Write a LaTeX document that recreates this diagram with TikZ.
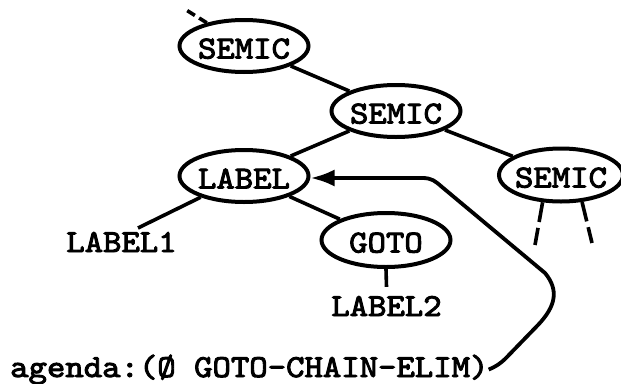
\documentclass[tikz,border=0pt]{standalone}
\usepackage{fontspec}
\newfontfamily\tw{lmmono10-regular.otf}[FakeStretch=1.095,FakeBold=3]
\usetikzlibrary{shapes.geometric,arrows.meta}
\begin{document}
\begin{tikzpicture}[x=1pt,y=-1pt,
  every node/.style={font={\tw\fontsize{32}{38}\selectfont}},
  nd/.style={ellipse, draw, line width=4pt, inner xsep=-4pt, inner ysep=0pt,
    minimum width=129pt, minimum height=52pt, text height=25pt, text depth=0pt},
  conn/.style={line width=3.6pt},
  txt/.style={anchor=base, inner sep=0pt},
]
\useasboundingbox (0,0) rectangle (621,383);
\node[nd] (s1) at (244,46) {SEMIC};
\node[nd] (s2) at (396,111) {SEMIC};
\node[nd] (lab) at (244,176) {LABEL};
\node[nd, minimum width=124pt, minimum height=53pt] (s3) at (561,175) {SEMIC};
\node[nd, minimum height=54pt] (goto) at (386,240) {GOTO};
\node[txt] (l1) at (121.5,252) {LABEL1};
\node[txt] (l2) at (386.5,316) {LABEL2};
\node[txt, anchor=base west] (ag) at (10,377) {agenda:(Ø GOTO-CHAIN-ELIM)};
\coordinate (up) at (183,8);
\coordinate (l1c) at (138,228);
\coordinate (d1) at (535,245);
\coordinate (d2) at (592,243);
\coordinate (a4) at (422,178);
\draw[conn, dash pattern=on 9pt off 5pt] (s1) -- (up);
\draw[conn] (s1) -- (s2);
\draw[conn] (s2) -- (lab);
\draw[conn] (s2) -- (s3);
\draw[conn] (lab) -- (l1c);
\draw[conn] (lab) -- (goto);
\draw[conn] (goto.south) -- ([yshift=9pt]l2.north);
\draw[conn, dash pattern=on 20pt off 6pt] (s3.236) -- (d1);
\draw[conn, dash pattern=on 20pt off 6pt] (s3.308) -- (d2);
\draw[line width=3.8pt, -{Latex[length=24pt,width=17pt]}]
  (ag.east) .. controls (495,367) and (500,364) .. (506,358) -- (538,325)
  .. controls (556,306) and (559,290) .. (545,273) -- (442,187)
  .. controls (435,181) and (432,178) .. (a4) -- (lab.east |- a4);
\end{tikzpicture}
\end{document}
